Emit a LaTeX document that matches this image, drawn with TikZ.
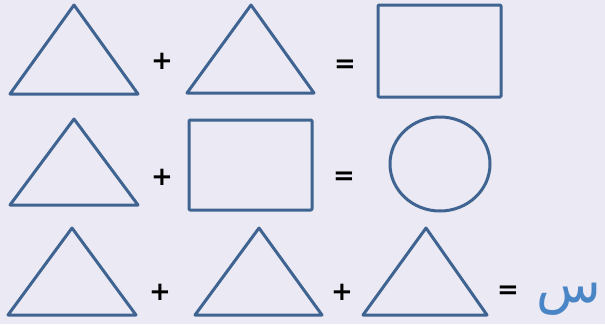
\documentclass[tikz,border=0pt]{standalone}
\usepackage{fontspec}
\newfontfamily\signfont{DejaVu Sans}
\newfontfamily\arabicfont[Script=Arabic]{DejaVu Sans}
\TeXXeTstate=1
\definecolor{bgcol}{HTML}{EBE9F3}
\definecolor{figblue}{HTML}{3F6492}
\definecolor{letterblue}{HTML}{4A85C6}

\begin{document}
\begin{tikzpicture}[
    x=1pt, y=-1pt,
    figline/.style={
        draw=figblue,
        line width=3pt,
        line join=round
    },
    sign/.style={
        inner sep=0pt,
        font=\signfont\bfseries\fontsize{26}{26}\selectfont
    },
    letter/.style={
        inner sep=0pt,
        text=letterblue,
        font=\arabicfont\fontsize{53}{53}\selectfont
    }
]

    % --- Background ---
    \fill [bgcol] (0,0) rectangle (605,324);
    \useasboundingbox (0,0) rectangle (605,324);

    % --- Row 1: triangle + triangle = rectangle ---
    \draw [figline] (10,94) -- (74,5) -- (138,94) -- cycle;
    \node [sign] (plusA) at (162,61) {+};
    \draw [figline] (187,93) -- (251,5) -- (314,93) -- cycle;
    \node [sign] (eqA) at (345,66) {=};
    \draw [figline, rounded corners=1pt] (378,5) rectangle (501,97);

    % --- Row 2: triangle + rectangle = circle ---
    \draw [figline] (10,205) -- (74,119) -- (138,205) -- cycle;
    \node [sign] (plusB) at (162,177) {+};
    \draw [figline, rounded corners=1pt] (189,120) rectangle (312,210);
    \node [sign] (eqB) at (344,178) {=};
    \draw [figline] (440,164) ellipse [x radius=50, y radius=47];

    % --- Row 3: triangle + triangle + triangle = letter ---
    \draw [figline] (8,315) -- (72,228) -- (136,315) -- cycle;
    \node [sign] (plusC) at (160,292) {+};
    \draw [figline] (195,315) -- (259,228) -- (322,315) -- cycle;
    \node [sign] (plusD) at (342,292) {+};
    \draw [figline] (363,315) -- (426,228) -- (487,315) -- cycle;
    \node [sign] (eqC) at (508,292) {=};
    \node [letter] (sin) at (569,299) {\beginR س\endR};

\end{tikzpicture}
\end{document}
